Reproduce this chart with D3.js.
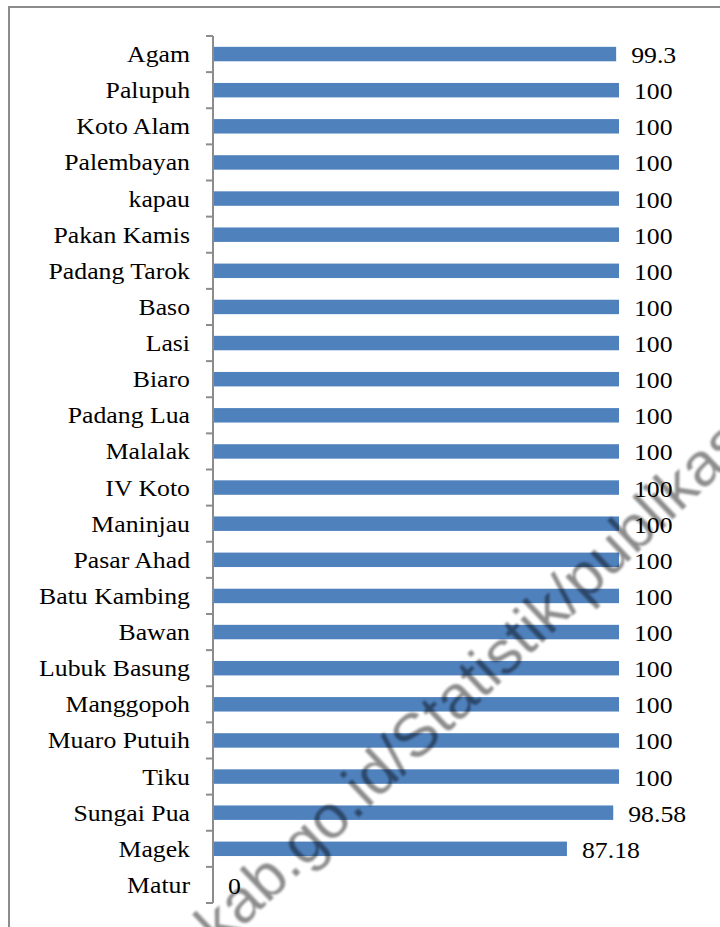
<!DOCTYPE html>
<html lang="en">
<head>
<meta charset="UTF-8">
<title>Bar chart</title>
<script src="https://d3js.org/d3.v7.min.js"></script>
<style>
  body { margin: 0; background: #fff; }
  .cat, .val { font-family: "Liberation Serif", "Times New Roman", serif; font-size: 23px; fill: #000; }
  .wm { font-family: "Liberation Sans", Arial, sans-serif; font-size: 62px; }
</style>
</head>
<body>
<svg width="720" height="927"></svg>
<script>
// categories, top to bottom
const categories = ["Agam", "Palupuh", "Koto Alam", "Palembayan", "kapau", "Pakan Kamis",
  "Padang Tarok", "Baso", "Lasi", "Biaro", "Padang Lua", "Malalak", "IV Koto", "Maninjau",
  "Pasar Ahad", "Batu Kambing", "Bawan", "Lubuk Basung", "Manggopoh", "Muaro Putuih",
  "Tiku", "Sungai Pua", "Magek", "Matur"];
const values = [99.3, 100, 100, 100, 100, 100, 100, 100, 100, 100, 100, 100, 100, 100,
  100, 100, 100, 100, 100, 100, 100, 98.58, 87.18, 0];
const valueLabels = ["99.3", "100", "100", "100", "100", "100", "100", "100", "100", "100",
  "100", "100", "100", "100", "100", "100", "100", "100", "100", "100", "100", "98.58", "87.18", "0"];

const svg = d3.select("svg");
const stretch = 1.12; // text in the source looks a bit wide

// outer frame (runs off the right and bottom edge)
svg.append("rect")
  .attr("x", 9).attr("y", 7)
  .attr("width", 730).attr("height", 940)
  .attr("fill", "none").attr("stroke", "#8c8c8c").attr("stroke-width", 2);

const x = d3.scaleLinear().domain([0, 100]).range([213, 619]);
const y = d3.scaleBand().domain(categories).range([36, 903]).paddingInner(0.6).paddingOuter(0.3);

// bars
svg.selectAll(".bar")
  .data(categories)
  .enter().append("rect")
    .attr("class", "bar")
    .attr("x", x(0))
    .attr("y", d => y(d))
    .attr("width", (d, i) => x(values[i]) - x(0))
    .attr("height", y.bandwidth())
    .attr("fill", "#4f81bd");

// axis with ticks between categories
const step = y.step();
const axis = svg.append("g").attr("stroke", "#8c8c8c").attr("stroke-width", 2);
axis.append("line").attr("x1", 213).attr("x2", 213).attr("y1", 36).attr("y2", 903);
axis.selectAll(".tick")
  .data(d3.range(categories.length + 1))
  .enter().append("line")
    .attr("x1", 206).attr("x2", 213)
    .attr("y1", i => 36 + i * step)
    .attr("y2", i => 36 + i * step);

// watermark, sits over the bars but under the value labels
svg.append("defs").append("filter").attr("id", "soft")
  .append("feGaussianBlur").attr("stdDeviation", 0.8);
svg.append("text")
  .attr("class", "wm")
  .attr("transform", "translate(107,1056) rotate(-43.5)")
  .attr("fill", "#000").attr("fill-opacity", 0.45)
  .attr("filter", "url(#soft)")
  .text("agamkab.go.id/Statistik/publikasi");

// category labels
svg.selectAll(".cat")
  .data(categories)
  .enter().append("text")
    .attr("class", "cat")
    .attr("text-anchor", "end")
    .attr("transform", d => `translate(190,${y(d) + y.bandwidth() / 2 + 8}) scale(${stretch},1)`)
    .text(d => d);

// value labels
svg.selectAll(".val")
  .data(categories)
  .enter().append("text")
    .attr("class", "val")
    .attr("transform", (d, i) => `translate(${x(values[i]) + 15},${y(d) + y.bandwidth() / 2 + 9}) scale(${stretch},1)`)
    .text((d, i) => valueLabels[i]);
</script>
</body>
</html>
